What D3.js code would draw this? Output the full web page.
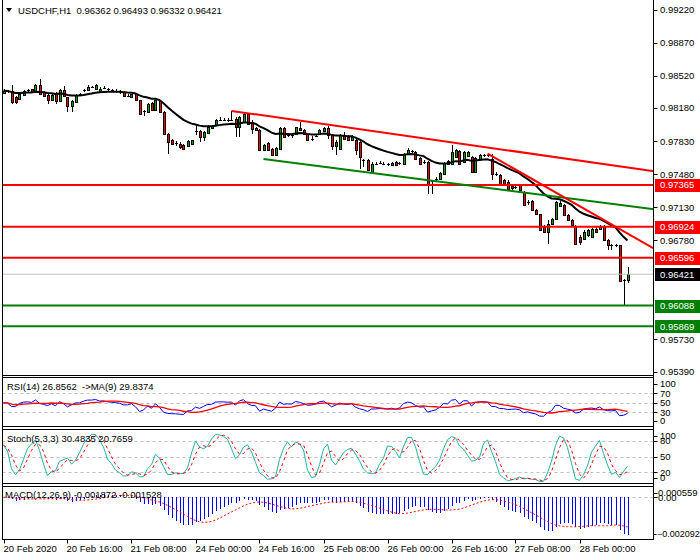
<!DOCTYPE html>
<html><head><meta charset="utf-8">
<script src="https://cdn.jsdelivr.net/npm/d3@7/dist/d3.min.js"></script>
<style>
body{margin:0;background:#fff;}
svg text{font-family:"Liberation Sans",Arial,sans-serif;font-size:9.5px;fill:#000;}
</style></head><body>
<svg id="c" width="700" height="560"></svg>
<script>
// ---------- DATA ----------
const symbolTitle = "USDCHF,H1";
const lastQuote = [0.96362, 0.96493, 0.96332, 0.96421];
const opens = [0.98342,0.98364,0.98364,0.98300,0.98282,0.98318,0.98364,0.98378,0.98364,0.98424,
0.98353,0.98318,0.98271,0.98342,0.98257,0.98371,0.98293,0.98201,0.98247,0.98328,
0.98364,0.98371,0.98406,0.98378,0.98353,0.98388,0.98378,0.98371,0.98364,0.98356,
0.98353,0.98314,0.98300,0.98328,0.98264,0.98141,0.98141,0.98236,0.98165,0.98257,
0.98141,0.97910,0.97840,0.97811,0.97804,0.97787,0.97776,0.97797,0.97939,0.97939,
0.97875,0.97918,0.97974,0.97999,0.98052,0.98059,0.98052,0.98052,0.98070,0.97981,
0.98034,0.98116,0.98034,0.97974,0.97953,0.97733,0.97811,0.97751,0.97680,0.97751,
0.97974,0.97893,0.97893,0.97910,0.97974,0.97953,0.97903,0.97857,0.97882,0.97903,
0.97939,0.97974,0.97893,0.97776,0.97751,0.97893,0.97875,0.97847,0.97840,0.97822,
0.97627,0.97627,0.97504,0.97585,0.97592,0.97592,0.97585,0.97574,0.97610,0.97592,
0.97592,0.97698,0.97727,0.97716,0.97656,0.97610,0.97610,0.97397,0.97415,0.97433,
0.97486,0.97620,0.97592,0.97663,0.97727,0.97610,0.97670,0.97663,0.97504,0.97645,
0.97670,0.97680,0.97645,0.97486,0.97468,0.97415,0.97397,0.97351,0.97344,0.97362,
0.97291,0.97185,0.97196,0.97103,0.97054,0.96920,0.96866,0.96955,0.97008,0.97139,
0.97149,0.97043,0.96997,0.96927,0.96820,0.96796,0.96831,0.96820,0.96902,0.96902,
0.96920,0.96778,0.96725,0.96725,0.96725,0.96353,0.96362];
const highs = [0.98378,0.98371,0.98424,0.98307,0.98335,0.98371,0.98385,0.98388,0.98434,0.98484,
0.98364,0.98328,0.98328,0.98353,0.98378,0.98413,0.98300,0.98264,0.98328,0.98342,
0.98385,0.98424,0.98420,0.98434,0.98406,0.98413,0.98392,0.98385,0.98378,0.98371,
0.98364,0.98328,0.98335,0.98342,0.98271,0.98165,0.98236,0.98247,0.98271,0.98271,
0.98151,0.97918,0.97857,0.97833,0.97822,0.97797,0.97840,0.97847,0.97999,0.97953,
0.97939,0.97999,0.97999,0.98070,0.98087,0.98080,0.98080,0.98151,0.98087,0.98094,
0.98130,0.98130,0.98052,0.97981,0.97963,0.97804,0.97822,0.97762,0.97770,0.97981,
0.97981,0.97910,0.97903,0.97981,0.98034,0.97963,0.97910,0.97882,0.97893,0.97963,
0.97981,0.97988,0.97911,0.97840,0.97911,0.97928,0.97893,0.97893,0.97858,0.97840,
0.97645,0.97645,0.97610,0.97610,0.97620,0.97610,0.97599,0.97610,0.97620,0.97606,
0.97705,0.97762,0.97741,0.97727,0.97663,0.97627,0.97620,0.97422,0.97450,0.97504,
0.97610,0.97627,0.97787,0.97751,0.97741,0.97727,0.97727,0.97670,0.97663,0.97691,
0.97698,0.97698,0.97691,0.97504,0.97479,0.97433,0.97415,0.97362,0.97362,0.97372,
0.97302,0.97203,0.97203,0.97114,0.97061,0.96937,0.96990,0.97019,0.97196,0.97196,
0.97160,0.97054,0.97008,0.96937,0.96831,0.96884,0.96902,0.96913,0.96920,0.96937,
0.96937,0.96796,0.96742,0.96742,0.96735,0.96371,0.96493];
const lows = [0.98328,0.98342,0.98229,0.98222,0.98271,0.98307,0.98353,0.98349,0.98356,0.98328,
0.98300,0.98222,0.98264,0.98229,0.98250,0.98300,0.98141,0.98141,0.98236,0.98307,
0.98349,0.98364,0.98392,0.98371,0.98342,0.98378,0.98356,0.98349,0.98342,0.98328,
0.98300,0.98293,0.98293,0.98257,0.98116,0.98094,0.98130,0.98151,0.98158,0.98130,
0.97903,0.97698,0.97787,0.97776,0.97751,0.97733,0.97769,0.97787,0.97893,0.97822,
0.97833,0.97910,0.97963,0.97988,0.98045,0.98045,0.98034,0.98045,0.97875,0.97875,
0.98024,0.98010,0.97910,0.97939,0.97726,0.97726,0.97726,0.97670,0.97670,0.97740,
0.97868,0.97875,0.97868,0.97903,0.97946,0.97893,0.97833,0.97833,0.97875,0.97893,
0.97928,0.97857,0.97734,0.97680,0.97741,0.97847,0.97833,0.97840,0.97680,0.97539,
0.97557,0.97514,0.97493,0.97574,0.97585,0.97574,0.97571,0.97564,0.97564,0.97578,
0.97585,0.97691,0.97705,0.97634,0.97585,0.97585,0.97273,0.97273,0.97408,0.97422,
0.97479,0.97585,0.97585,0.97656,0.97585,0.97599,0.97663,0.97493,0.97493,0.97634,
0.97663,0.97663,0.97415,0.97457,0.97372,0.97362,0.97316,0.97316,0.97326,0.97302,
0.97139,0.97149,0.97089,0.97043,0.96877,0.96856,0.96742,0.96937,0.96997,0.97132,
0.97033,0.96983,0.96927,0.96735,0.96725,0.96785,0.96820,0.96813,0.96856,0.96891,
0.96778,0.96672,0.96672,0.96707,0.96346,0.96088,0.96332];
const closes = [0.98364,0.98353,0.98247,0.98247,0.98328,0.98364,0.98371,0.98356,0.98424,0.98335,
0.98307,0.98271,0.98318,0.98257,0.98371,0.98307,0.98201,0.98257,0.98318,0.98318,
0.98371,0.98406,0.98406,0.98424,0.98388,0.98392,0.98371,0.98364,0.98353,0.98342,
0.98307,0.98307,0.98328,0.98264,0.98123,0.98151,0.98229,0.98158,0.98264,0.98141,
0.97910,0.97822,0.97804,0.97797,0.97769,0.97751,0.97833,0.97840,0.97928,0.97875,
0.97928,0.97981,0.97988,0.98052,0.98059,0.98059,0.98052,0.98052,0.97981,0.98087,
0.98123,0.98017,0.97963,0.97953,0.97733,0.97787,0.97733,0.97680,0.97762,0.97974,
0.97875,0.97893,0.97882,0.97981,0.97953,0.97903,0.97840,0.97847,0.97882,0.97953,
0.97974,0.97893,0.97776,0.97822,0.97893,0.97858,0.97840,0.97875,0.97734,0.97663,
0.97620,0.97521,0.97592,0.97592,0.97603,0.97592,0.97588,0.97603,0.97574,0.97595,
0.97698,0.97741,0.97720,0.97645,0.97592,0.97599,0.97380,0.97408,0.97433,0.97493,
0.97603,0.97592,0.97716,0.97741,0.97592,0.97716,0.97716,0.97504,0.97656,0.97680,
0.97680,0.97670,0.97486,0.97479,0.97380,0.97380,0.97326,0.97337,0.97341,0.97309,
0.97149,0.97174,0.97096,0.97054,0.96884,0.96866,0.96955,0.97008,0.97185,0.97174,
0.97043,0.96990,0.96937,0.96742,0.96760,0.96866,0.96891,0.96902,0.96866,0.96920,
0.96785,0.96725,0.96722,0.96728,0.96353,0.96364,0.96421];

const timeLabelBars = [0,16,32,48,64,80,96,112,128,144];
const timeLabels = ["20 Feb 2020","20 Feb 16:00","21 Feb 08:00","24 Feb 00:00","24 Feb 16:00",
                    "25 Feb 08:00","26 Feb 00:00","26 Feb 16:00","27 Feb 08:00","28 Feb 00:00"];
const priceTicks = [0.99220,0.98870,0.98520,0.98180,0.97830,0.97480,0.97130,0.96780,0.95730,0.95390];
const resistanceLevels = [0.97365,0.96924,0.96596];
const supportLevels = [0.96088,0.95869];
// trendlines: [barIndex, price] anchor pairs (rays to the right)
const upperChannel = [[57,0.98151],[156,0.97552]];
const lowerChannel = [[65,0.97641],[156,0.97144]];
const steepLine   = [[121,0.97699],[156,0.96852]];
const maPeriod = 20;
const rsiPeriod = 14, rsiMaPeriod = 9;
const rsiLevels = [70,50,30], rsiLabels = [100,70,50,30,0];
const stochK = 5, stochSlow = 3, stochD = 3;
const stochLevels = [80,50,20], stochLabels = [100,80,50,20,0];
const macdFast = 12, macdSlow = 26, macdSignal = 9;
const macdRange = [-0.002092, 0.000559];
const rsiTitle = "RSI(14) 26.8562  ->MA(9) 29.8374";
const stochTitle = "Stoch(5,3,3) 30.4835 20.7659";
const macdTitle = "MACD(12,26,9) -0.001872 -0.001528";

// ---------- INDICATORS (derived from the candles) ----------
function ema(a,n){const k=2/(n+1),o=[];a.forEach((v,i)=>o.push(i===0?v:o[i-1]+k*(v-o[i-1])));return o;}
function sma(a,n){return a.map((v,i)=>d3.mean(a.slice(Math.max(0,i-n+1),i+1)));}
function rsiCalc(c,n){
  const diffs=c.slice(1).map((v,i)=>v-c[i]);
  const seed=d3.mean(diffs.slice(0,n).map(Math.abs))/2;
  let ag=seed,al=seed;const o=[50];
  for(let i=1;i<c.length;i++){const d=c[i]-c[i-1],g=Math.max(d,0),l=Math.max(-d,0);
    ag=(ag*(n-1)+g)/n;al=(al*(n-1)+l)/n;
    o.push(al===0?100:100-100/(1+ag/al));}
  return o;}
const N = closes.length;
const maLine = ema(closes, maPeriod);
const rsi = rsiCalc(closes, rsiPeriod);
const rsiMa = sma(rsi, rsiMaPeriod);
const num=[],den=[];
for(let i=0;i<N;i++){const s=Math.max(0,i-stochK+1);
  const hh=d3.max(highs.slice(s,i+1)),ll=d3.min(lows.slice(s,i+1));num.push(closes[i]-ll);den.push(hh-ll);}
const stK = num.map((v,i)=>{const s=Math.max(0,i-stochSlow+1);const dd=d3.sum(den.slice(s,i+1));return dd===0?50:100*d3.sum(num.slice(s,i+1))/dd;});
const stD = sma(stK, stochD);
const e12=ema(closes,macdFast), e26=ema(closes,macdSlow);
const macd = e12.map((v,i)=>v-e26[i]);
const macdSig = sma(macd, macdSignal);

// ---------- LAYOUT ----------
const svg = d3.select("#c");
const L=2.5, R=653.5;
const P = {main:[0,375.5], rsi:[377.5,426.5], st:[429.5,483.5], macd:[486.5,539.5]};
const x = d3.scaleLinear().domain([0,N-1]).range([3.5,3.5+4*(N-1)]);
const y = d3.scaleLinear().domain([0.95390,0.99220]).range([371.5,10]);
const yR = d3.scaleLinear().domain([0,100]).range([426.5,379]);
const yS = d3.scaleLinear().domain([0,100]).range([482.7,430.6]);
const yM = d3.scaleLinear().domain(macdRange).range([537.5,486.5]);
const f5 = d3.format(".5f");

const defs = svg.append("defs");
Object.entries(P).forEach(([k,[t,b]])=>{
  defs.append("clipPath").attr("id","clip-"+k).append("rect").attr("x",L).attr("y",t).attr("width",R-L).attr("height",b-t);
});

// ---------- MAIN PANEL ----------
const gm = svg.append("g").attr("clip-path","url(#clip-main)");
const cg = gm.append("g").attr("shape-rendering","crispEdges");
for(let i=0;i<N;i++){
  const cx = Math.round(x(i))+0.5;
  cg.append("line").attr("x1",cx).attr("x2",cx).attr("y1",y(highs[i])).attr("y2",y(lows[i])).attr("stroke","#000");
  const o=opens[i], c=closes[i];
  const top=Math.round(y(Math.max(o,c))), bot=Math.round(y(Math.min(o,c)));
  if(bot-top<2){
    cg.append("rect").attr("x",cx-1.5).attr("y",top).attr("width",3).attr("height",Math.max(1,bot-top)).attr("fill","#000");
  } else {
    cg.append("rect").attr("x",cx-1.5).attr("y",top).attr("width",3).attr("height",bot-top+1).attr("fill","#000");
    cg.append("rect").attr("x",cx-0.5).attr("y",top+1).attr("width",1).attr("height",bot-top-1)
      .attr("fill", c>=o ? "#00a000" : "#ff0000");
  }
}
gm.append("line").attr("x1",L).attr("x2",R).attr("y1",y(lastQuote[3])).attr("y2",y(lastQuote[3])).attr("stroke","#c0c0c0");
gm.append("path").datum(maLine).attr("fill","none").attr("stroke","#000").attr("stroke-width",2)
  .attr("d",d3.line().x((d,i)=>x(i)).y(d=>y(d)));
resistanceLevels.forEach(v=>gm.append("line").attr("x1",L).attr("x2",R).attr("y1",y(v)).attr("y2",y(v)).attr("stroke","#ff0000").attr("stroke-width",2));
supportLevels.forEach(v=>gm.append("line").attr("x1",L).attr("x2",R).attr("y1",y(v)).attr("y2",y(v)).attr("stroke","#008000").attr("stroke-width",2));
function ray(pts,color){
  const [[i0,p0],[i1,p1]]=pts; const slope=(p1-p0)/(i1-i0); const iEnd=x.invert(R+2);
  gm.append("line").attr("x1",x(i0)).attr("y1",y(p0)).attr("x2",x(iEnd)).attr("y2",y(p0+slope*(iEnd-i0)))
    .attr("stroke",color).attr("stroke-width",2);
}
ray(upperChannel,"#ff0000");
ray(lowerChannel,"#008000");
ray(steepLine,"#ff0000");

svg.append("path").attr("d","M6,8 L12,8 L9,12 Z").attr("fill","#000");
svg.append("text").attr("x",18).attr("y",13.5).attr("xml:space","preserve")
  .text(symbolTitle+"  "+lastQuote.map(f5).join(" "));

// ---------- RSI ----------
const gr = svg.append("g").attr("clip-path","url(#clip-rsi)");
rsiLevels.forEach(v=>gr.append("line").attr("x1",L).attr("x2",R).attr("y1",Math.round(yR(v))+0.5).attr("y2",Math.round(yR(v))+0.5).attr("stroke","#c0c0c0").attr("stroke-dasharray","3,3"));
gr.append("path").datum(rsi).attr("fill","none").attr("stroke","#0000ff").attr("d",d3.line().x((d,i)=>x(i)).y(d=>yR(d)));
gr.append("path").datum(rsiMa).attr("fill","none").attr("stroke","#ff0000").attr("stroke-width",1.3).attr("d",d3.line().x((d,i)=>x(i)).y(d=>yR(d)));
svg.append("text").attr("x",7).attr("y",389.5).attr("xml:space","preserve").text(rsiTitle);

// ---------- STOCH ----------
const gs = svg.append("g").attr("clip-path","url(#clip-st)");
stochLevels.forEach(v=>gs.append("line").attr("x1",L).attr("x2",R).attr("y1",Math.round(yS(v))+0.5).attr("y2",Math.round(yS(v))+0.5).attr("stroke","#c0c0c0").attr("stroke-dasharray","3,3"));
gs.append("path").datum(stK).attr("fill","none").attr("stroke","#20b2aa").attr("d",d3.line().x((d,i)=>x(i)).y(d=>yS(d)));
gs.append("path").datum(stD).attr("fill","none").attr("stroke","#ff0000").attr("stroke-dasharray","3,3").attr("d",d3.line().x((d,i)=>x(i)).y(d=>yS(d)));
svg.append("text").attr("x",7).attr("y",442).text(stochTitle);

// ---------- MACD ----------
const gd = svg.append("g").attr("clip-path","url(#clip-macd)");
gd.append("line").attr("x1",L).attr("x2",R).attr("y1",Math.round(yM(0))+0.5).attr("y2",Math.round(yM(0))+0.5).attr("stroke","#c0c0c0").attr("stroke-dasharray","3,3");
gd.append("g").attr("shape-rendering","crispEdges").selectAll("line").data(macd).join("line")
  .attr("x1",(d,i)=>Math.round(x(i))+0.5).attr("x2",(d,i)=>Math.round(x(i))+0.5)
  .attr("y1",yM(0)).attr("y2",d=>yM(d)).attr("stroke","#0000ff");
gd.append("path").datum(macdSig).attr("fill","none").attr("stroke","#ff0000").attr("stroke-dasharray","2,2").attr("d",d3.line().x((d,i)=>x(i)).y(d=>yM(d)));
svg.append("text").attr("x",5).attr("y",498).text(macdTitle);

// ---------- FRAMES ----------
const fr = svg.append("g").attr("stroke","#000").attr("shape-rendering","crispEdges");
fr.append("line").attr("x1",L).attr("x2",L).attr("y1",0).attr("y2",P.macd[1]);
fr.append("line").attr("x1",R).attr("x2",R).attr("y1",0).attr("y2",P.macd[1]);
[P.main[1],P.rsi[0],P.rsi[1],P.st[0],P.st[1],P.macd[0],P.macd[1]].forEach(v=>
  fr.append("line").attr("x1",L).attr("x2",R).attr("y1",v).attr("y2",v));

// ---------- RIGHT AXES ----------
function rlabel(yy, txt, tx){
  svg.append("line").attr("x1",R).attr("x2",R+4).attr("y1",Math.round(yy)+0.5).attr("y2",Math.round(yy)+0.5).attr("stroke","#000");
  svg.append("text").attr("x",tx||660).attr("y",yy).attr("dy","0.35em").text(txt);
}
priceTicks.forEach(v=>rlabel(y(v), f5(v)));
function clampY(yy,[t,b]){return Math.max(t+6,Math.min(b-6,yy));}
rsiLabels.forEach(v=>rlabel(clampY(yR(v),P.rsi), v));
stochLabels.forEach(v=>rlabel(clampY(yS(v),P.st), v));
const f6 = d3.format(".6f");
rlabel(clampY(yM(macdRange[1]),P.macd), f6(macdRange[1]), 658);
rlabel(yM(0), "0.00", 658);
svg.append("text").attr("x",657).attr("y",clampY(yM(macdRange[0]),P.macd)).attr("dy","0.35em")
  .style("font-size","9px").text(f6(macdRange[0]));
svg.append("line").attr("x1",R).attr("x2",R+3).attr("y1",Math.round(clampY(yM(macdRange[0]),P.macd))+0.5)
  .attr("y2",Math.round(clampY(yM(macdRange[0]),P.macd))+0.5).attr("stroke","#000");

function boxLabel(v,bg){
  const yy=y(v);
  svg.append("rect").attr("x",655).attr("y",Math.round(yy)-6).attr("width",45).attr("height",13).attr("fill",bg);
  svg.append("text").attr("x",660).attr("y",yy).attr("dy","0.35em").style("fill","#fff").text(f5(v));
}
resistanceLevels.forEach(v=>boxLabel(v,"#ff0000"));
supportLevels.forEach(v=>boxLabel(v,"#008000"));
boxLabel(lastQuote[3],"#000");

// ---------- TIME AXIS ----------
timeLabelBars.forEach((b,k)=>{
  const tx=Math.round(x(b))+0.5;
  svg.append("line").attr("x1",tx).attr("x2",tx).attr("y1",P.macd[1]).attr("y2",P.macd[1]+4).attr("stroke","#000");
  svg.append("text").attr("x",tx-1).attr("y",552).text(timeLabels[k]);
});
</script></body></html>
